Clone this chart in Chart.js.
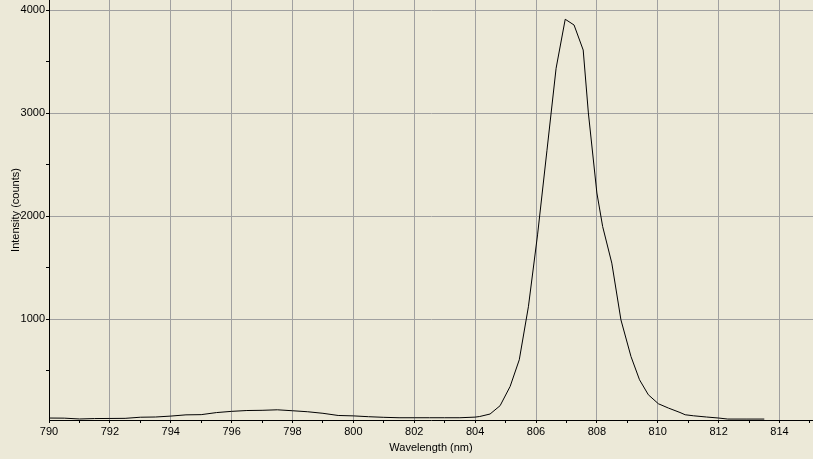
<!DOCTYPE html>
<html>
<head>
<meta charset="utf-8">
<script src="https://cdn.jsdelivr.net/npm/chart.js@4.4.0/dist/chart.umd.min.js"></script>
<style>
html,body{margin:0;padding:0;background:#ECE9D8;}
#wrap{width:813px;height:459px;position:relative;}
</style>
</head>
<body>
<div id="wrap"><canvas id="spec"></canvas></div>
<script>
const wavelength = [790.0, 790.5, 791.0, 791.5, 792.0, 792.5, 793.0, 793.5, 794.0, 794.5, 795.0, 795.5, 796.0, 796.5, 797.0, 797.5, 798.0, 798.5, 799.0, 799.5, 800.0, 800.5, 801.0, 801.5, 802.0, 802.5, 803.0, 803.5, 804.0,
  804.15, 804.49, 804.82, 805.15, 805.45, 805.75, 806.05, 806.36, 806.66, 806.96, 807.25, 807.55, 807.72, 808.0, 808.19, 808.49, 808.79, 809.12, 809.4, 809.69, 810.02, 810.35, 810.73, 810.9, 811.17, 811.6, 812.0, 812.3, 812.9, 813.5];
const intensity = [39, 38, 30, 34, 35, 36, 47, 49, 58, 70, 72, 92, 104, 112, 114, 119, 110, 100, 85, 64, 60, 52, 46, 42, 42, 42, 42, 42, 48,
  54, 78, 159, 346, 605, 1120, 1818, 2640, 3437, 3913, 3857, 3614, 3003, 2225, 1899, 1544, 993, 637, 411, 265, 178, 136, 93, 71, 61, 49, 39, 29, 29, 29];
// minor ticks every 500, labels every 1000
const yTicks = [500, 1000, 1500, 2000, 2500, 3000, 3500, 4000];

const font = {family:'"Liberation Sans", Arial, sans-serif', size:11};
const grid = '#a0a0a0';

new Chart(document.getElementById('spec'), {
  type:'line',
  data:{ datasets:[{ data: wavelength.map((w,i)=>({x:w,y:intensity[i]})), borderColor:'#000', borderWidth:1, pointRadius:0, tension:0, fill:false }] },
  options:{
    responsive:true, maintainAspectRatio:false, animation:false,
    layout:{ padding:0 },
    plugins:{ legend:{display:false}, tooltip:{enabled:false} },
    scales:{
      x:{
        type:'linear', min:790, max:815.1,
        afterFit(s){ s.height = 39; s.paddingRight = 0; },
        border:{ color:'#000', width:1 },
        grid:{ color: c => (c.tick && c.tick.value % 2 === 0) ? grid : 'transparent', tickColor:'#000', tickLength:3 },
        ticks:{ stepSize:1, includeBounds:false, color:'#000', font, padding:2, maxRotation:0, autoSkip:false,
          callback: v => v % 2 === 0 ? String(v) : '' },
        title:{ display:true, text:'Wavelength (nm)', color:'#000', font, padding:{top:0,bottom:4} }
      },
      y:{
        type:'linear', min:20, max:4100,
        afterFit(s){ s.width = 49; s.paddingTop = 0; },
        afterBuildTicks(s){ s.ticks = yTicks.map(v => ({value:v})); },
        border:{ color:'#000', width:1 },
        grid:{ color: c => (c.tick && c.tick.value % 1000 === 0) ? grid : 'transparent', tickColor:'#000', tickLength:3 },
        ticks:{ color:'#000', font, padding:1,
          callback: v => v % 1000 === 0 ? String(v) : '' },
        title:{ display:true, text:'Intensity (counts)', color:'#000', font, padding:{top:9,bottom:0} }
      }
    }
  }
});
</script>
</body>
</html>
